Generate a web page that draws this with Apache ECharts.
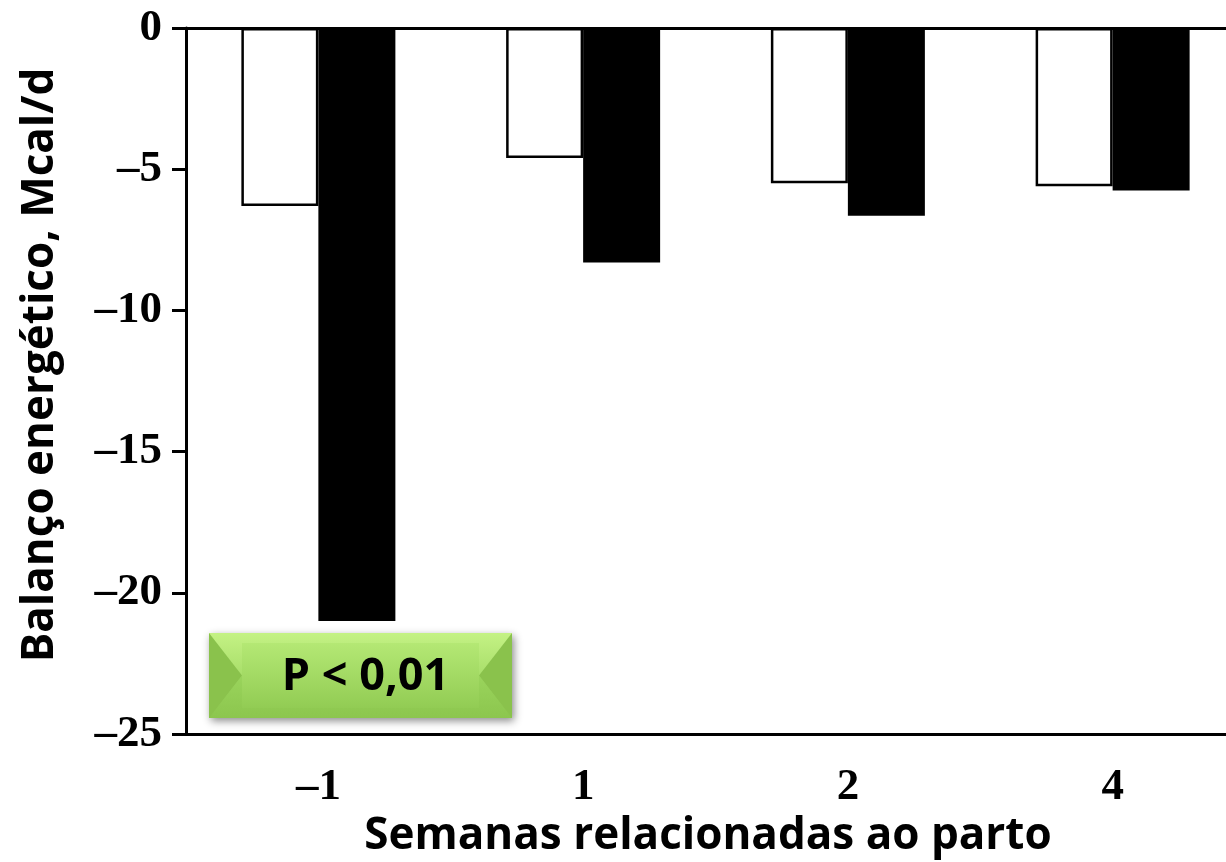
<!DOCTYPE html>
<html>
<head>
<meta charset="utf-8">
<script src="https://cdn.jsdelivr.net/npm/echarts@6/dist/echarts.min.js"></script>
<style>
html,body{margin:0;padding:0;background:#fff;}
#chart{width:1226px;height:862px;}
</style>
</head>
<body>
<div id="chart"></div>
<script>
const categories = ['-1', '1', '2', '4'];
const whiteSeries = [-6.3, -4.6, -5.5, -5.6];
const blackSeries = [-21.0, -8.3, -6.65, -5.75];
const yMin = -25, yMax = 0, yStep = 5;
const yTitle = 'Balanço energético, Mcal/d';
const xTitle = 'Semanas relacionadas ao parto';
const pLabel = 'P < 0,01';

const dash = s => String(s).replace('-', '\u2013');
const chart = echarts.init(document.getElementById('chart'));

const bx = 209, by = 633, bw = 303, bh = 85, bev = 33;
chart.setOption({
  animation: false,
  grid: { left: 186, top: 28, width: 1059, bottom: 128, containLabel: false, outerBoundsMode: 'none' },
  xAxis: [{
    type: 'category', data: categories, position: 'bottom',
    axisLine: { onZero: false, lineStyle: { color: '#000', width: 3 } },
    axisTick: { show: false },
    axisLabel: { color: '#000', fontFamily: 'Liberation Serif', fontWeight: 'bold', fontSize: 45, margin: 31, formatter: dash }
  }, {
    type: 'category', data: categories, position: 'top',
    axisLine: { onZero: false, lineStyle: { color: '#000', width: 3 } },
    axisTick: { show: false }, axisLabel: { show: false }
  }],
  yAxis: {
    type: 'value', min: yMin, max: yMax, interval: yStep,
    splitLine: { show: false },
    axisLine: { show: true, lineStyle: { color: '#000', width: 3 } },
    axisTick: { show: true, length: 14, lineStyle: { color: '#000', width: 3 } },
    axisLabel: { color: '#000', fontFamily: 'Liberation Serif', fontWeight: 'bold', fontSize: 45, margin: 24, formatter: dash }
  },
  series: [{
    type: 'bar', data: whiteSeries, barWidth: 77, barGap: '0%',
    itemStyle: { color: '#fff', borderColor: '#000', borderWidth: 2.5 }
  }, {
    type: 'bar', data: blackSeries, barWidth: 77, barGap: '0%',
    itemStyle: { color: '#000' }
  }],
  graphic: [
    {
      type: 'text', x: 40, y: 365, rotation: Math.PI / 2,
      style: { text: yTitle, fontFamily: 'Open Sans', fontWeight: 'bold', fontSize: 44, fill: '#000', align: 'center', verticalAlign: 'middle' }
    },
    {
      type: 'text', x: 708, y: 836,
      style: { text: xTitle, fontFamily: 'Open Sans', fontWeight: 'bold', fontSize: 44, fill: '#000', align: 'center', verticalAlign: 'middle' }
    },
    {
      type: 'group', z: 100,
      children: [
        { type: 'rect', shape: { x: bx, y: by, width: bw, height: bh },
          style: { fill: new echarts.graphic.LinearGradient(0, 0, 0, 1, [{ offset: 0, color: '#c8f48e' }, { offset: 1, color: '#8cc850' }]),
                   shadowBlur: 8, shadowOffsetX: 2, shadowOffsetY: 3, shadowColor: 'rgba(0,0,0,0.45)' } },
        { type: 'polygon', shape: { points: [[bx, by], [bx + bw, by], [bx + bw - bev, by + bh / 2], [bx + bev, by + bh / 2]] },
          style: { fill: new echarts.graphic.LinearGradient(0, 0, 0, 1, [{ offset: 0, color: '#c4f284' }, { offset: 1, color: '#a8de6a' }]) } },
        { type: 'polygon', shape: { points: [[bx, by + bh], [bx + bw, by + bh], [bx + bw - bev, by + bh / 2], [bx + bev, by + bh / 2]] },
          style: { fill: new echarts.graphic.LinearGradient(0, 0, 0, 1, [{ offset: 0, color: '#9ad45c' }, { offset: 1, color: '#8cc64e' }]) } },
        { type: 'polygon', shape: { points: [[bx, by], [bx + bev, by + bh / 2], [bx, by + bh]] },
          style: { fill: '#8ac24c' } },
        { type: 'polygon', shape: { points: [[bx + bw, by], [bx + bw - bev, by + bh / 2], [bx + bw, by + bh]] },
          style: { fill: '#8ac24c' } },
        { type: 'rect', shape: { x: bx + bev, y: by + 10, width: bw - 2 * bev, height: bh - 20 },
          style: { fill: new echarts.graphic.LinearGradient(0, 0, 0, 1, [{ offset: 0, color: '#b4e874' }, { offset: 1, color: '#92cc54' }]) } },
        { type: 'text', x: bx + bw / 2 + 5, y: by + bh / 2 + 2,
          style: { text: pLabel, fontFamily: 'Open Sans', fontWeight: 'bold', fontSize: 45, fill: '#000', align: 'center', verticalAlign: 'middle' } }
      ]
    }
  ]
});
</script>
</body>
</html>
